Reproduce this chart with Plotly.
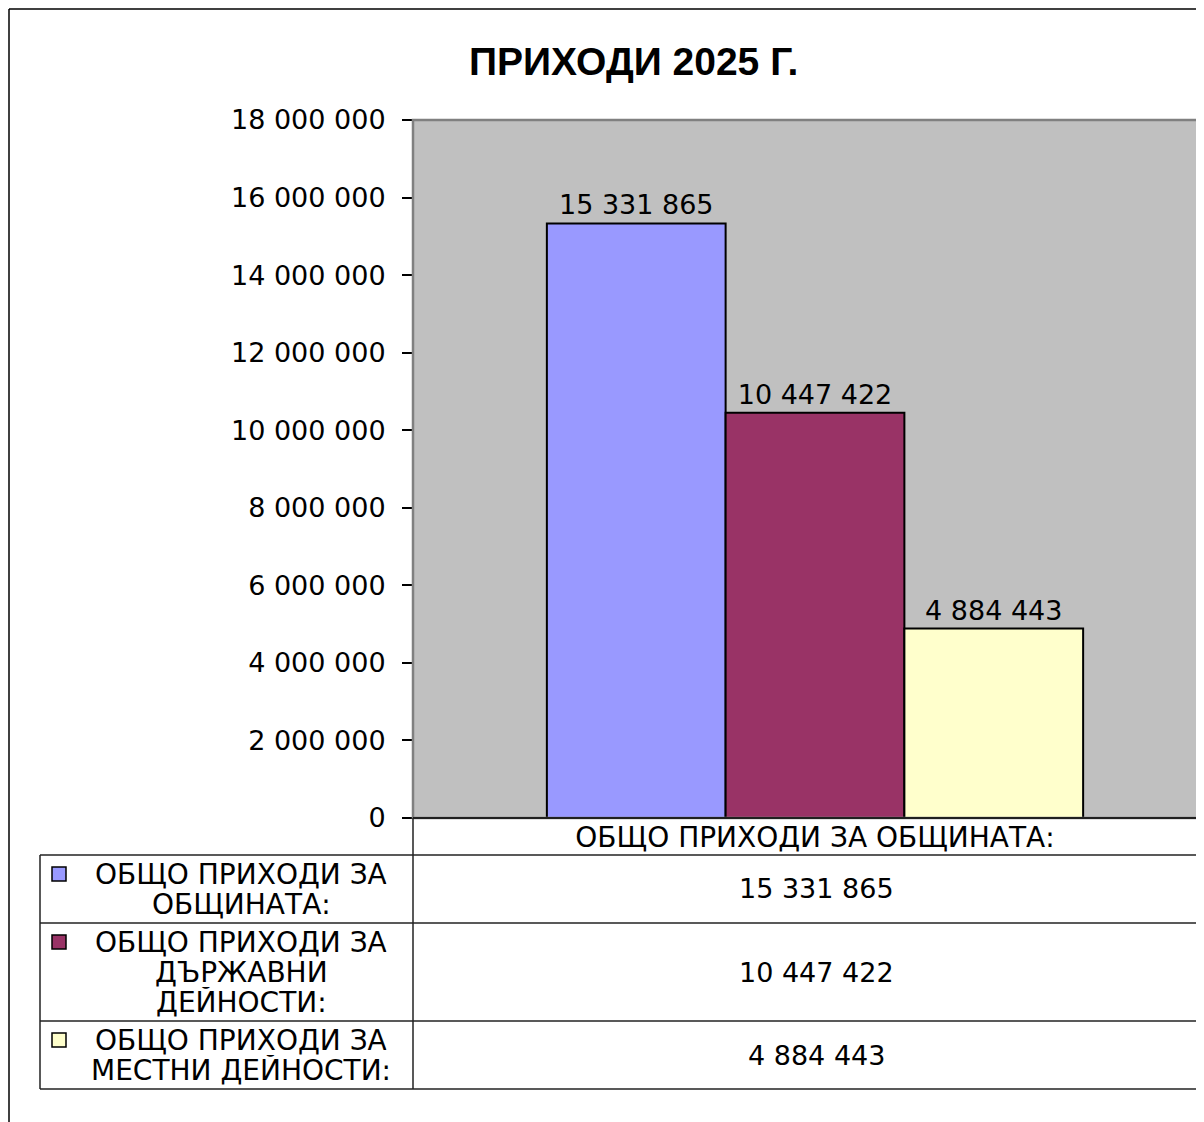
import plotly.graph_objects as go

# ---- data ----
TITLE = "ПРИХОДИ 2025 Г."
CATEGORY = "ОБЩО ПРИХОДИ ЗА ОБЩИНАТА:"
SERIES_NAMES = [
    "ОБЩО ПРИХОДИ ЗА ОБЩИНАТА:",
    "ОБЩО ПРИХОДИ ЗА ДЪРЖАВНИ ДЕЙНОСТИ:",
    "ОБЩО ПРИХОДИ ЗА МЕСТНИ ДЕЙНОСТИ:",
]
SERIES_NAME_LINES = [
    ["ОБЩО ПРИХОДИ ЗА", "ОБЩИНАТА:"],
    ["ОБЩО ПРИХОДИ ЗА", "ДЪРЖАВНИ", "ДЕЙНОСТИ:"],
    ["ОБЩО ПРИХОДИ ЗА", "МЕСТНИ ДЕЙНОСТИ:"],
]
VALUES = [15331865, 10447422, 4884443]
COLORS = ["#9999FF", "#993366", "#FFFFCC"]
Y_MAX = 18000000
Y_STEP = 2000000

FONT = "DejaVu Sans"
FS_NUM = 27
FS_TXT = 28

# ---- layout geometry (pixels, in screenshot coordinates) ----
OFF = 8  # page body margin
W, H = 1204, 1122 - OFF
L, T, B = 413, 120, 818
PW, PH = OFF + W - L, B - T


def px(x):
    return (x - L) / PW


def py(y):
    return (B - y) / PH


fig = go.Figure()
for name, v, c in zip(SERIES_NAMES, VALUES, COLORS):
    fig.add_trace(go.Bar(
        x=[CATEGORY], y=[v], name=name,
        marker=dict(color=c, line=dict(color="black", width=2)),
        texttemplate="%{y:,d}", textposition="outside",
        textfont=dict(family=FONT, size=FS_NUM, color="black"),
        constraintext="none", cliponaxis=False,
    ))

shapes = []
annotations = []

# plot area border (gray)
shapes.append(dict(type="rect", xref="paper", yref="paper",
                   x0=0, x1=px(1240), y0=0, y1=1,
                   line=dict(color="#808080", width=2.5), layer="above"))
# outer figure frame
shapes.append(dict(type="line", xref="paper", yref="paper",
                   x0=px(9), x1=px(1230), y0=py(9), y1=py(9),
                   line=dict(color="black", width=1.5)))
shapes.append(dict(type="line", xref="paper", yref="paper",
                   x0=px(9), x1=px(9), y0=py(9), y1=py(1130),
                   line=dict(color="black", width=1.5)))

# data table
line_h = 30
header_bottom = 855
table_left = 40
TBL = dict(color="#222222", width=1.5)
shapes.append(dict(type="line", xref="paper", yref="paper",
                   x0=0, x1=px(1230), y0=py(B), y1=py(B),
                   line=dict(color="black", width=1.5)))
shapes.append(dict(type="line", xref="paper", yref="paper",
                   x0=px(table_left), x1=px(1230),
                   y0=py(header_bottom), y1=py(header_bottom), line=TBL))

y_cur = header_bottom
for i, (lines, v, c) in enumerate(zip(SERIES_NAME_LINES, VALUES, COLORS)):
    row_h = 8 + line_h * len(lines)
    if len(lines) == 2:
        row_h = 68
    top, bot = y_cur, y_cur + row_h
    for j, ln in enumerate(lines):
        yc = top + 19 + j * line_h
        annotations.append(dict(
            xref="paper", yref="paper", x=px(241), y=py(yc),
            text=ln, showarrow=False, xanchor="center", yanchor="middle",
            height=line_h, valign="middle",
            font=dict(family=FONT, size=FS_TXT, color="black")))
    # legend key
    ky = top + 19
    shapes.append(dict(type="rect", xref="paper", yref="paper",
                       x0=px(52), x1=px(66), y0=py(ky - 7), y1=py(ky + 7),
                       fillcolor=c, line=dict(color="black", width=1.5)))
    # value cell
    annotations.append(dict(
        xref="paper", yref="paper", x=px(816), y=py((top + bot) / 2),
        text=f"{v:,d}".replace(",", " "), showarrow=False,
        xanchor="center", yanchor="middle",
        font=dict(family=FONT, size=FS_NUM, color="black")))
    shapes.append(dict(type="line", xref="paper", yref="paper",
                       x0=px(table_left), x1=px(1230), y0=py(bot), y1=py(bot),
                       line=TBL))
    y_cur = bot

shapes.append(dict(type="line", xref="paper", yref="paper",
                   x0=px(table_left), x1=px(table_left),
                   y0=py(header_bottom), y1=py(y_cur), line=TBL))
shapes.append(dict(type="line", xref="paper", yref="paper",
                   x0=0, x1=0, y0=py(B), y1=py(y_cur), line=TBL))

# title
annotations.append(dict(
    xref="paper", yref="paper", x=px(633), y=py(62), text=f"<b>{TITLE}</b>",
    showarrow=False, xanchor="center", yanchor="middle",
    font=dict(family="Liberation Sans", size=39, color="black")))

fig.update_layout(
    width=W, height=H,
    margin=dict(l=L - OFF, r=0, t=T - OFF, b=H - (B - OFF), pad=0),
    paper_bgcolor="white", plot_bgcolor="#C0C0C0",
    barmode="group", bargap=0.333, bargroupgap=0,
    showlegend=False, separators=". ",
    shapes=shapes, annotations=annotations,
    font=dict(family=FONT, size=FS_NUM, color="black"),
)
fig.update_xaxes(
    range=[-0.5, -0.5 + PW / 804], showgrid=False, zeroline=False,
    showline=False, ticks="", tickfont=dict(family=FONT, size=FS_TXT),
    fixedrange=True,
)
fig.update_yaxes(
    range=[0, Y_MAX], dtick=Y_STEP, tick0=0, tickformat=",d",
    showgrid=False, zeroline=False, showline=False,
    ticks="outside", ticklen=10, tickwidth=1.5, tickcolor="black",
    ticklabelstandoff=11, tickfont=dict(family=FONT, size=FS_NUM),
    fixedrange=True,
)

fig.write_html("out.html")
